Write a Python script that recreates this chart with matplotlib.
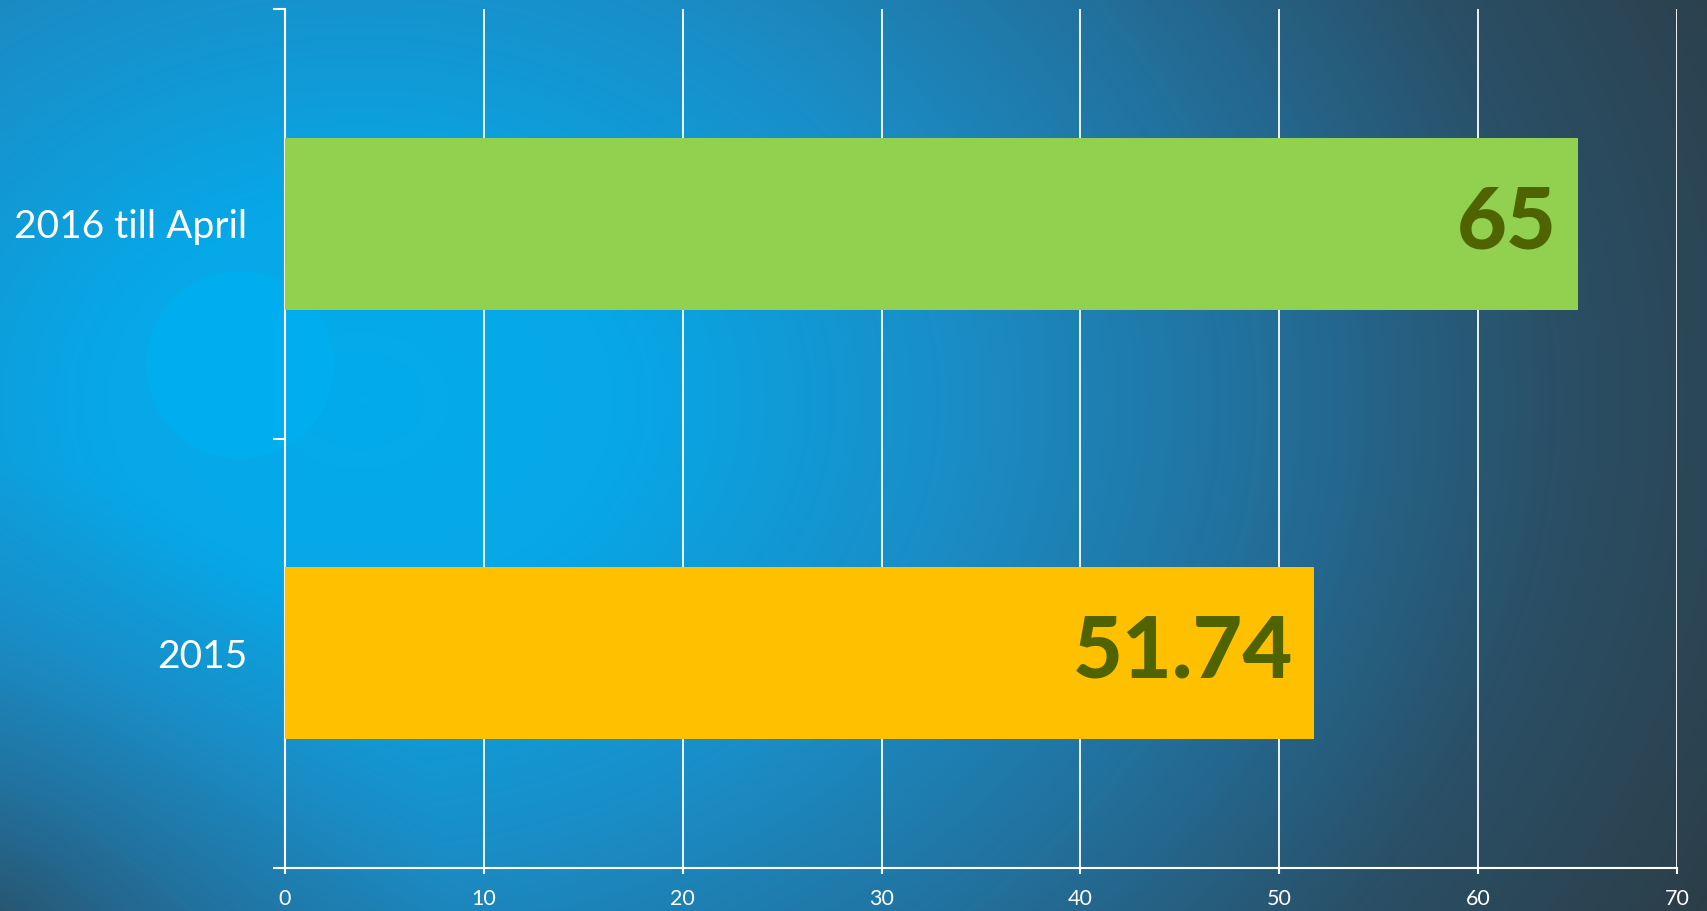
import numpy as np
import matplotlib
matplotlib.use("Agg")
import matplotlib.pyplot as plt
from matplotlib.colors import LinearSegmentedColormap
from matplotlib.patches import Circle

categories = ["2015", "2016 till April"]
values = [51.74, 65]
value_labels = ["51.74", "65"]
bar_colors = ["#FFC000", "#92D050"]
xticks = [0, 10, 20, 30, 40, 50, 60, 70]

W, H, DPI = 1707, 911, 100
fig = plt.figure(figsize=(W / DPI, H / DPI), dpi=DPI)

# background gradient
yy, xx = np.mgrid[0:H, 0:W]
cx, cy = 360, 400
r = np.sqrt((xx - cx) ** 2 + (1.3 * (yy - cy)) ** 2)
# extra vignette toward the bottom-left corner
corner = np.clip(1 - np.sqrt(xx ** 2 + (H - yy) ** 2) / 450, 0, 1)
v = np.clip(r / 1500 + 0.25 * corner, 0, 1)
stops = [(0.0, "#03ABEC"), (250 / 1500, "#07A8E8"), (600 / 1500, "#1A8DC6"),
         (900 / 1500, "#22709C"), (1200 / 1500, "#2A4F66"), (1.0, "#2C3E48")]
cmap = LinearSegmentedColormap.from_list("bg", stops)
bg = fig.add_axes([0, 0, 1, 1])
bg.imshow(v, cmap=cmap, vmin=0, vmax=1, aspect="auto",
          extent=[0, W, H, 0], interpolation="bilinear")
bg.add_patch(Circle((240, 365), 94, color="#00AEEF", alpha=0.9, lw=0))
bg.set_xlim(0, W)
bg.set_ylim(H, 0)
bg.axis("off")

font = "Lato"
ax = fig.add_axes([285 / W, 1 - 868 / H, (1677 - 285) / W, (868 - 9) / H])
ax.set_facecolor("none")
ypos = np.arange(len(categories))
ax.barh(ypos, values, height=0.4, color=bar_colors, zorder=3)
ax.set_xlim(0, 70)
ax.set_ylim(-0.5, len(categories) - 0.5)

ax.set_xticks(xticks)
ax.set_xticklabels([str(t) for t in xticks], fontsize=15.5, color="white", family=font)
ax.tick_params(axis="x", colors="white", length=4, width=1.5, pad=11, direction="out")
ax.grid(axis="x", color="white", lw=1.3, zorder=1)

ax.set_yticks(np.arange(-0.5, len(categories), 1.0))
ax.set_yticklabels([])
ax.tick_params(axis="y", which="major", colors="white", length=9, width=1.5, direction="out")
ax.set_yticks(ypos, minor=True)
ax.set_yticklabels(categories, minor=True, fontsize=28, color="white", family=font)
ax.tick_params(axis="y", which="minor", length=0, pad=27)

for s in ["top", "right"]:
    ax.spines[s].set_visible(False)
for s in ["left", "bottom"]:
    ax.spines[s].set_color("white")
    ax.spines[s].set_linewidth(1.5)

for y, val, lab in zip(ypos, values, value_labels):
    ax.annotate(lab, xy=(val, y), xytext=(-15, 0), textcoords="offset points",
                ha="right", va="center", fontsize=62, fontweight="black",
                color="#4F6300", family=font, zorder=4)

fig.savefig("out.png", dpi=DPI)
